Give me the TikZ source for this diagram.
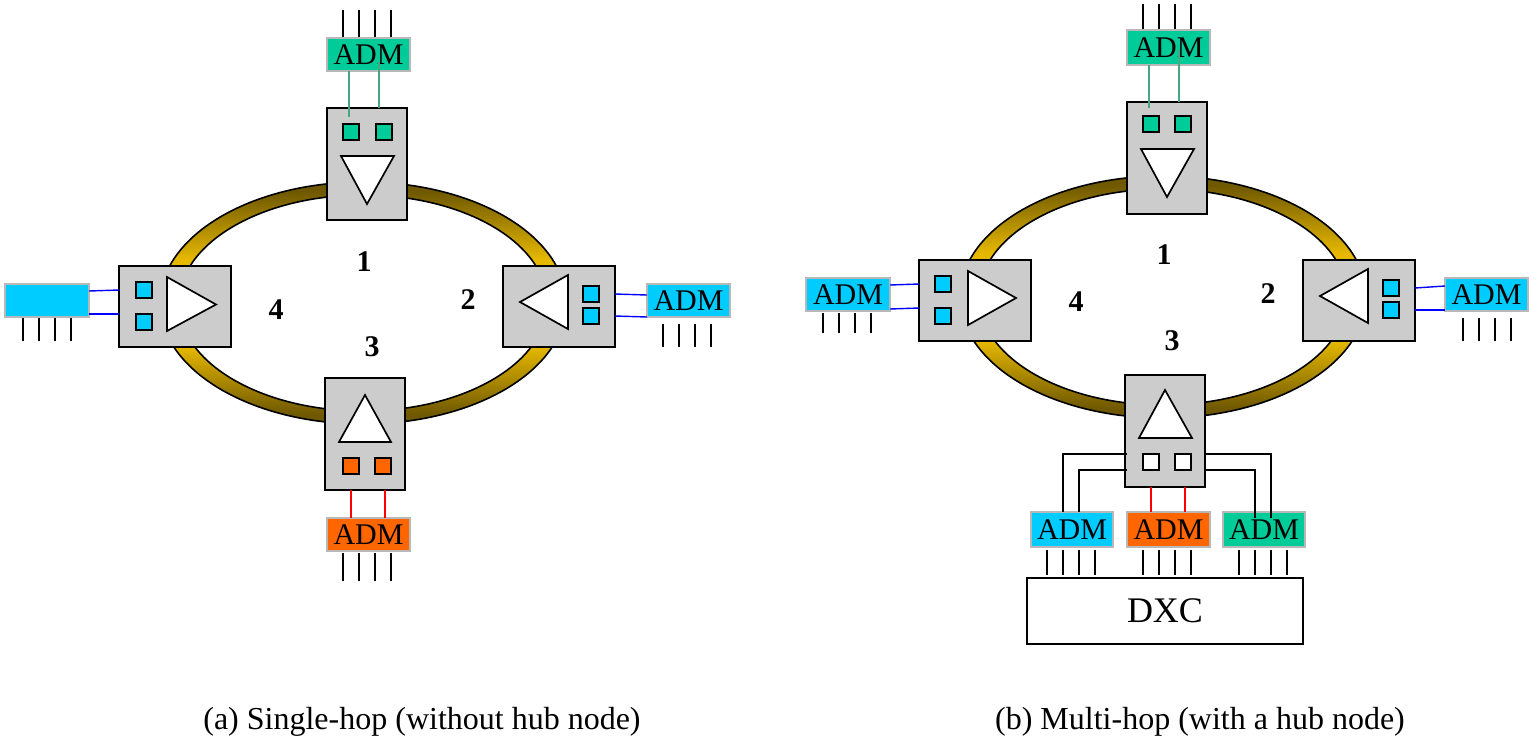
\documentclass[tikz,border=0pt]{standalone}
\usepackage{fontspec}
\setmainfont{Liberation Serif}
\definecolor{boxgrey}{HTML}{CCCCCC}
\definecolor{admcyan}{HTML}{00CCFF}
\definecolor{admorange}{HTML}{FF6600}
\definecolor{admgreen}{HTML}{00CC99}
\definecolor{admedge}{HTML}{B8B8B8}
\definecolor{ringdark}{HTML}{6F5800}
\definecolor{ringgold}{HTML}{E6B800}
\definecolor{wiregreen}{HTML}{45A880}
\pgfdeclareverticalshading{ringshade}{100bp}{color(0bp)=(ringdark);color(27bp)=(ringdark);color(41bp)=(ringgold);color(59bp)=(ringgold);color(73bp)=(ringdark);color(100bp)=(ringdark)}
\newcommand{\rectnode}[7]{\node[#1,minimum width={(#5-#3)*1pt},minimum height={(#6-#4)*1pt}] (#2) at ({(#3+#5)/2},{(#4+#6)/2}) {#7};}
\newcommand{\ring}[4]{%
  \shade[shading=ringshade,even odd rule]
    (#1,#2) ellipse [x radius=#3,y radius=#4] (#1,#2) ellipse [x radius=#3-19,y radius=#4-13];
  \draw[line width=1.6pt] (#1,#2) ellipse [x radius=#3,y radius=#4] (#1,#2) ellipse [x radius=#3-19,y radius=#4-13];}
\newcommand{\tickset}[4]{%
  \foreach \i in {0,1,2,3} {
    \coordinate (#1-a\i) at ({#2+16*\i},#3);
    \coordinate (#1-b\i) at ({#2+16*\i},#4);
    \draw[tickline] (#1-a\i) -- (#1-b\i);
  }}
\begin{document}
\begin{tikzpicture}[x=1pt,y=-1pt,
  station/.style={draw=black,fill=boxgrey,line width=1.7pt,inner sep=0pt,outer sep=0pt},
  port/.style={draw=black,line width=1.8pt,inner sep=0pt,outer sep=0pt,minimum size=16pt},
  cyanport/.style={port,fill=admcyan},
  greenport/.style={port,fill=admgreen},
  orangeport/.style={port,fill=admorange},
  whiteport/.style={port,fill=white},
  adm/.style={draw=admedge,line width=1.6pt,inner sep=0pt,outer sep=0pt,text=black,font=\fontsize{30}{30}\selectfont},
  admc/.style={adm,fill=admcyan},
  admo/.style={adm,fill=admorange},
  admg/.style={adm,fill=admgreen},
  dxcbox/.style={draw=black,fill=white,line width=1.7pt,inner sep=0pt,outer sep=0pt,font=\fontsize{36}{36}\selectfont},
  tri/.style={draw=black,fill=white,line width=1.7pt,line join=miter},
  tickline/.style={draw=black,line width=1.4pt},
  bluewire/.style={draw=blue,line width=1.4pt},
  redwire/.style={draw=red,line width=1.4pt},
  greenwire/.style={draw=wiregreen,line width=1.4pt},
  blackwire/.style={draw=black,line width=1.4pt},
  numlabel/.style={font=\fontsize{30}{30}\selectfont\bfseries,inner sep=0pt},
  caption/.style={font=\fontsize{32}{32}\selectfont,inner sep=0pt}]
\useasboundingbox (0,0) rectangle (1540,740);

% ---------- panel (a)
\ring{363}{303}{203}{121}
\tickset{ta1}{343}{10}{37}
\tickset{ta4}{23}{318}{341}
\tickset{ta2}{663}{324}{347}
\tickset{ta3}{343}{553}{581}
\rectnode{station}{a1}{327}{108}{407}{220}{}
\rectnode{station}{a2}{503}{266}{615}{347}{}
\rectnode{station}{a3}{325}{378}{405}{490}{}
\rectnode{station}{a4}{119}{266}{231}{347}{}
\rectnode{admg}{am1}{327}{38}{410}{71}{ADM}
\rectnode{admc}{am2}{647}{284}{730}{317}{ADM}
\rectnode{admo}{am3}{327}{518}{410}{551}{ADM}
\rectnode{admc}{am4}{5}{284}{89}{317}{}
\node[greenport] (ap1a) at (351,132) {};
\node[greenport] (ap1b) at (384,132) {};
\node[cyanport] (ap2a) at (591,294) {};
\node[cyanport] (ap2b) at (591,316) {};
\node[orangeport] (ap3a) at (351,466) {};
\node[orangeport] (ap3b) at (383,466) {};
\node[cyanport] (ap4a) at (144,290) {};
\node[cyanport] (ap4b) at (144,322) {};
\draw[tri] (341,156) -- (394,156) -- (367,204) -- cycle;
\draw[tri] (568,275) -- (568,329) -- (520,302) -- cycle;
\draw[tri] (339,442) -- (391,442) -- (365,395) -- cycle;
\draw[tri] (167,277) -- (167,331) -- (216,304.5) -- cycle;
\draw[greenwire] (am1.south -| 349,0) -- (349,117);
\draw[greenwire] (a1.north -| 379,0) -- (379,62);
\draw[redwire] (a3.south -| 351,0) -- (am3.north -| 351,0);
\draw[redwire] (a3.south -| 385,0) -- (am3.north -| 385,0);
\draw[bluewire] (am4.east |- 0,291) -- (a4.west |- 0,290);
\draw[bluewire] (am4.east |- 0,314) -- (a4.west |- 0,314);
\draw[bluewire] (a2.east |- 0,294) -- (am2.west |- 0,295);
\draw[bluewire] (a2.east |- 0,316) -- (am2.west |- 0,317);
\node[numlabel] (al1) at (364,262) {1};
\node[numlabel] (al2) at (468,300) {2};
\node[numlabel] (al3) at (372,347) {3};
\node[numlabel] (al4) at (276,310) {4};
\node[caption] (capa) at (422,722) {(a) Single-hop (without hub node)};

% ---------- panel (b)
\ring{1163}{297}{203}{121}
\tickset{tb1}{1143}{4}{30}
\tickset{tb4}{823}{313}{333}
\tickset{tb2}{1463}{318}{341}
\tickset{tbc}{1047}{550}{575}
\tickset{tbo}{1143}{550}{575}
\tickset{tbg}{1239}{550}{575}
\rectnode{station}{b1}{1127}{102}{1207}{214}{}
\rectnode{station}{b2}{1303}{260}{1415}{341}{}
\rectnode{station}{b3}{1125}{375}{1205}{487}{}
\rectnode{station}{b4}{919}{260}{1031}{341}{}
\rectnode{admg}{bm1}{1127}{30}{1210}{65}{ADM}
\rectnode{admc}{bm2}{1445}{278}{1528}{311}{ADM}
\rectnode{admc}{bm4}{806}{278}{890}{311}{ADM}
\rectnode{admc}{bmc}{1031}{512}{1113}{547}{ADM}
\rectnode{admo}{bmo}{1127}{512}{1210}{547}{ADM}
\rectnode{admg}{bmg}{1223}{512}{1305}{547}{ADM}
\rectnode{dxcbox}{dxc}{1027}{578}{1303}{644}{DXC}
\node[greenport] (bp1a) at (1151,124) {};
\node[greenport] (bp1b) at (1183,124) {};
\node[cyanport] (bp2a) at (1391,288) {};
\node[cyanport] (bp2b) at (1391,310) {};
\node[whiteport] (bp3a) at (1151,462) {};
\node[whiteport] (bp3b) at (1183,462) {};
\node[cyanport] (bp4a) at (943,284) {};
\node[cyanport] (bp4b) at (943,316) {};
\draw[tri] (1141,149) -- (1194,149) -- (1167,197) -- cycle;
\draw[tri] (1368,269) -- (1368,323) -- (1320,296) -- cycle;
\draw[tri] (1139,438) -- (1192,438) -- (1165,390) -- cycle;
\draw[tri] (968,271) -- (968,325) -- (1016,298) -- cycle;
\draw[greenwire] (bm1.south -| 1149,0) -- (1149,108);
\draw[greenwire] (b1.north -| 1179,0) -- (1179,50);
\draw[redwire] (b3.south -| 1151,0) -- (bmo.north -| 1151,0);
\draw[redwire] (b3.south -| 1185,0) -- (bmo.north -| 1185,0);
\draw[bluewire] (bm4.east |- 0,285) -- (b4.west |- 0,284);
\draw[bluewire] (bm4.east |- 0,309) -- (b4.west |- 0,308);
\draw[bluewire] (b2.east |- 0,288) -- (bm2.west |- 0,286);
\draw[bluewire] (b2.east |- 0,310) -- (bm2.west |- 0,310);
\draw[blackwire] (1127,454) -| (bmc.north -| 1063,0);
\draw[blackwire] (1127,470) -| (bmc.north -| 1079,0);
\draw[blackwire] (b3.east |- 0,454) -| (1271,518);
\draw[blackwire] (b3.east |- 0,470) -| (1255,518);
\node[numlabel] (bl1) at (1164,255) {1};
\node[numlabel] (bl2) at (1268,294) {2};
\node[numlabel] (bl3) at (1172,341) {3};
\node[numlabel] (bl4) at (1076,302) {4};
\node[caption] (capb) at (1200,722) {(b) Multi-hop (with a hub node)};
\end{tikzpicture}
\end{document}
